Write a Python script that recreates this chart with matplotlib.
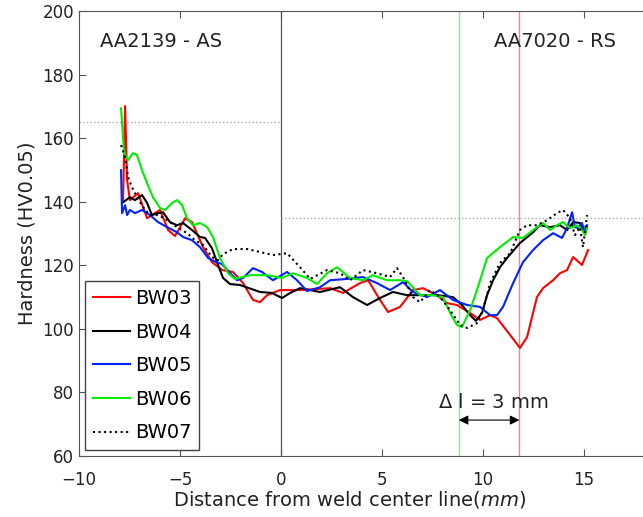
import matplotlib
matplotlib.use("Agg")
import matplotlib.pyplot as plt

# Hardness profiles across the weld (x in mm, hardness in HV0.05)
bw03_x = [-7.82, -7.72, -7.62, -7.48, -7.08, -6.63, -6.39, -5.99, -5.59, -5.25, -4.75, -4.41,
          -3.86, -3.42, -2.92, -2.38, -1.88, -1.39, -1.04, -0.69, -0.05, 0.94, 2.43, 3.07,
          3.91, 4.31, 4.90, 5.30, 5.89, 6.53, 7.03, 7.72, 8.22, 8.71, 9.36, 9.85, 10.35,
          10.69, 11.19, 11.83, 12.18, 12.67, 12.97, 13.47, 13.81, 14.16, 14.46, 14.90, 15.20]
bw03_y = [140.5, 170.1, 146.8, 140.5, 142.7, 134.8, 135.8, 137.4, 131.1, 129.2, 134.8, 133.6,
          125.7, 121.0, 118.5, 117.9, 114.4, 109.1, 108.4, 110.6, 112.2, 112.2, 112.8, 111.3,
          114.4, 115.3, 109.1, 105.3, 106.9, 112.2, 112.8, 110.6, 108.1, 107.5, 105.0, 102.8, 104.3,
          103.4, 99.3, 94.0, 97.4, 110.0, 112.8, 115.3, 117.5, 118.5, 122.6, 120.1, 124.8]

bw04_x = [-7.87, -7.48, -7.23, -6.88, -6.63, -6.39, -6.09, -5.84, -5.50, -5.15, -4.85, -4.41,
          -4.01, -3.76, -3.42, -3.17, -2.87, -2.52, -2.03, -1.04, -0.45, 0.05, 0.45, 0.94,
          1.93, 2.92, 3.56, 4.26, 4.90, 5.54, 6.24, 7.72, 8.51, 8.96, 9.36, 9.65, 9.95,
          10.20, 10.50, 10.84, 11.19, 11.83, 12.48, 12.82, 13.32, 13.81, 14.16, 14.46, 14.80,
          15.05, 15.15]
bw04_y = [139.6, 141.4, 140.5, 142.1, 139.6, 135.8, 136.4, 136.7, 133.6, 132.6, 133.3, 131.1,
          128.9, 128.6, 125.4, 121.0, 116.0, 114.1, 113.8, 111.6, 111.3, 109.7, 111.3, 112.8,
          111.6, 113.1, 110.0, 107.5, 109.7, 111.6, 110.6, 110.6, 110.0, 107.5, 104.3, 102.5, 105.0,
          110.6, 115.3, 119.4, 122.3, 127.0, 130.4, 132.6, 132.0, 132.6, 131.1, 133.6, 133.3,
          130.1, 132.0]

bw05_x = [-7.92, -7.87, -7.72, -7.62, -7.48, -7.23, -6.88, -6.49, -6.09, -5.64, -5.15, -4.85,
          -4.41, -4.01, -3.61, -3.22, -2.92, -2.62, -2.18, -1.88, -1.39, -0.94, -0.40, 0.30,
          0.79, 1.29, 1.93, 2.43, 3.27, 4.06, 4.75, 5.40, 6.04, 6.53, 7.23, 7.87, 8.51, 9.21,
          9.85, 10.35, 10.69, 10.99, 11.49, 11.98, 12.48, 12.97, 13.47, 13.91, 14.16, 14.41,
          14.55, 14.70, 14.90, 15.05, 15.15]
bw05_y = [149.9, 136.4, 138.9, 135.8, 137.4, 136.4, 137.4, 135.8, 133.6, 132.0, 130.4, 128.9,
          127.9, 125.7, 122.3, 121.0, 120.4, 118.2, 115.3, 116.0, 119.1, 117.9, 115.3, 117.9,
          115.3, 111.9, 113.1, 115.3, 115.7, 116.3, 114.4, 112.2, 114.7, 111.6, 110.0, 112.2, 109.1, 107.5,
          106.9, 104.3, 104.3, 106.9, 114.4, 121.0, 124.8, 127.9, 130.1, 128.6, 131.7, 136.7,
          132.0, 131.7, 133.3, 130.1, 132.6]

bw06_x = [-7.92, -7.77, -7.57, -7.33, -7.13, -6.88, -6.63, -6.34, -5.99, -5.74, -5.40, -5.15,
          -4.90, -4.65, -4.36, -4.01, -3.66, -3.37, -3.02, -2.62, -2.28, -1.53, -0.69, 0.05,
          0.59, 1.29, 1.78, 2.28, 2.77, 3.42, 4.06, 4.55, 5.25, 5.89, 6.24, 6.88, 7.52, 8.02,
          8.37, 8.71, 8.96, 9.36, 9.70, 10.20, 10.84, 11.49, 11.98, 12.48, 12.97, 13.32, 13.66,
          13.96, 14.31, 14.65, 14.90, 15.05, 15.15]
bw06_y = [169.4, 155.3, 153.1, 155.3, 154.7, 149.9, 145.8, 141.4, 138.0, 137.4, 139.6, 140.5,
          138.9, 134.8, 132.6, 133.3, 132.0, 128.9, 122.3, 117.5, 115.7, 116.9, 116.9, 116.0,
          117.5, 116.0, 114.1, 117.5, 119.4, 116.0, 115.3, 116.9, 115.3, 115.3, 115.0, 110.6, 110.6, 110.0,
          105.0, 101.2, 100.6, 105.9, 112.2, 122.3, 125.7, 128.9, 128.6, 131.1, 133.3, 131.1, 132.6,
          133.6, 131.7, 132.6, 131.1, 129.5, 131.7]

bw07_x = [-7.92, -7.72, -7.57, -7.38, -7.13, -6.83, -6.49, -6.09, -5.64, -5.15, -4.65, -4.26,
          -3.86, -3.42, -3.12, -2.87, -2.38, -1.68, -1.04, -0.40, 0.30, 0.94, 1.44, 2.28,
          2.92, 3.42, 4.06, 4.75, 5.40, 5.74, 6.04, 6.53, 6.88, 7.38, 7.87, 8.37, 8.86, 9.21,
          9.70, 10.00, 10.35, 10.84, 11.34, 11.83, 12.18, 12.67, 13.17, 13.66, 13.96, 14.31,
          14.55, 14.80, 14.95, 15.15]
bw07_y = [157.8, 154.0, 147.7, 144.6, 141.4, 138.3, 135.8, 135.8, 134.2, 132.0, 130.1, 127.9,
          126.4, 122.6, 121.6, 123.5, 125.1, 125.1, 124.2, 123.2, 123.8, 119.4, 115.7, 118.5,
          117.5, 115.3, 118.5, 117.5, 116.3, 119.1, 116.3, 110.0, 108.4, 112.2, 110.0, 105.9, 101.2, 100.3,
          101.8, 105.9, 114.4, 120.7, 123.8, 131.1, 132.6, 132.6, 134.2, 136.4, 137.4, 134.8,
          129.5, 132.0, 125.7, 135.8]

# base material hardness levels and reference positions
as_level = 165
rs_level = 135
green_pos = 8.8
red_pos = 11.8

fig = plt.figure(figsize=(6.43, 5.17), dpi=100)
ax = fig.add_axes([0.1229, 0.118, 0.8771, 0.8607])

ax.axvline(0, color='#555555', lw=0.9)
ax.axvline(green_pos, color='#80ee80', lw=1.0)
ax.axvline(red_pos, color='#ff8080', lw=1.0)
ax.plot([-10, 0], [as_level, as_level], ls=':', color='#aaaaaa', lw=1.0)
ax.plot([0, 20], [rs_level, rs_level], ls=':', color='#aaaaaa', lw=1.0)

ax.plot(bw03_x, bw03_y, color='#ff0000', lw=1.5, label='BW03')
ax.plot(bw04_x, bw04_y, color='black', lw=1.5, label='BW04')
ax.plot(bw05_x, bw05_y, color='#0022ff', lw=1.5, label='BW05')
ax.plot(bw06_x, bw06_y, color='#00ee00', lw=1.5, label='BW06')
ax.plot(bw07_x, bw07_y, color='black', lw=1.5, ls=':', label='BW07')

ax.annotate('', xy=(green_pos, 71.3), xytext=(red_pos, 71.3),
            arrowprops=dict(arrowstyle='<|-|>', color='black', lw=0.8,
                            mutation_scale=14, shrinkA=0, shrinkB=0))
ax.text(10.5, 76.7, r'$\Delta$ l = 3 mm', ha='center', va='center', fontsize=14, color='#222222')
ax.text(-8.96, 190.3, 'AA2139 - AS', ha='left', va='center', fontsize=14, color='#222222')
ax.text(16.6, 190.3, 'AA7020 - RS', ha='right', va='center', fontsize=14, color='#222222')

ax.set_xlim(-10, 17.92)
ax.set_ylim(60, 200)
ax.set_xticks([-10, -5, 0, 5, 10, 15])
ax.set_yticks([60, 80, 100, 120, 140, 160, 180, 200])
ax.tick_params(direction='in', top=True, right=False, length=5, labelsize=12,
               colors='#555555', labelcolor='#222222')
ax.tick_params(axis='x', pad=11)
for side in ['left', 'bottom', 'top']:
    ax.spines[side].set_color('#555555')
ax.spines['right'].set_visible(False)

ax.set_xlabel(r'Distance from weld center line$\it{(mm)}$', fontsize=14, color='#222222')
ax.xaxis.set_label_coords(0.48, -0.075)
ax.set_ylabel('Hardness (HV0.05)', fontsize=14, color='#222222')

leg = ax.legend(loc='lower left', bbox_to_anchor=(0.011, 0.013), borderaxespad=0,
                fontsize=14, fancybox=False, edgecolor='#444444', framealpha=1,
                handlelength=1.9, handletextpad=0.25, labelspacing=0.75)
leg.get_frame().set_linewidth(1.0)

fig.savefig('out.png', dpi=100)
